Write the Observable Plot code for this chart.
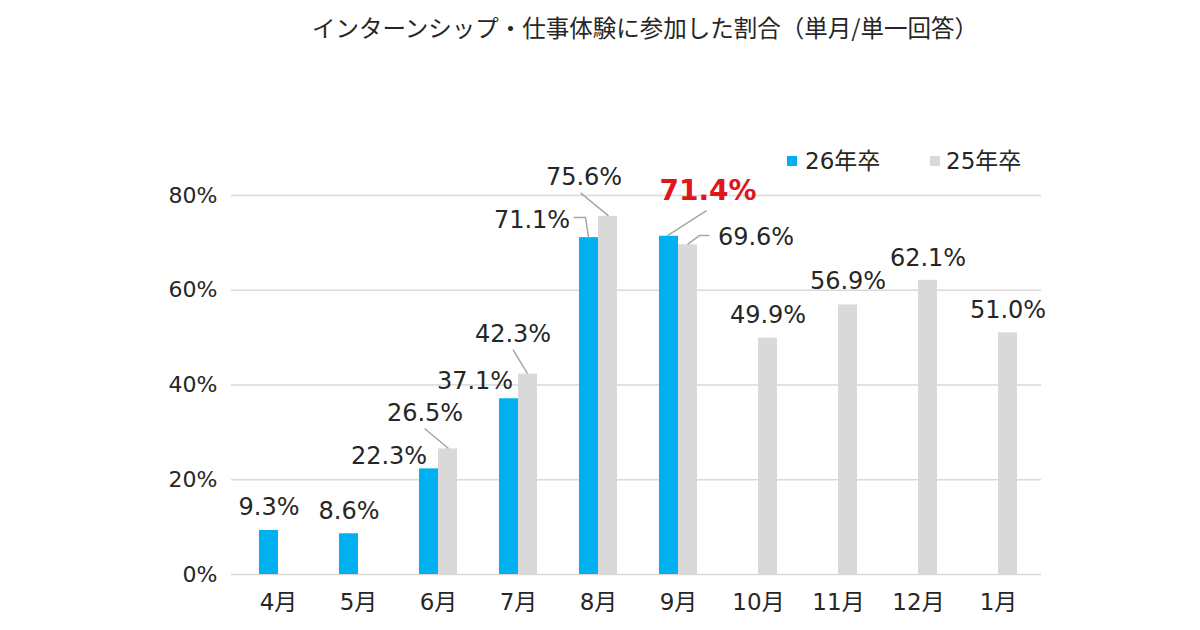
<!DOCTYPE html>
<html>
<head>
<meta charset="utf-8">
<script src="https://cdn.jsdelivr.net/npm/d3@7"></script>
<script src="https://cdn.jsdelivr.net/npm/@observablehq/plot@0.6"></script>
<style>
  body { margin: 0; background: #fff; }
  #wrap { position: relative; width: 1200px; height: 630px; overflow: hidden; background: #fff;
          font-family: "DejaVu Sans", "Noto Sans CJK JP", sans-serif; color: #262626; }
  #wrap svg { position: absolute; left: 0; top: 0; }
  #wrap svg g[aria-label^="x-axis"] text { font-size: 23px; }
  #title { position: absolute; top: 12px; left: 0; width: 1290px; text-align: center;
           font-family: "Noto Sans CJK JP", sans-serif; font-size: 23.5px; line-height: 30px; color: #262626; z-index: 2; }
  .sw { position: absolute; width: 10px; height: 10px; z-index: 2; }
  .lg { position: absolute; font-size: 23px; line-height: 23px; white-space: nowrap; z-index: 2; }
</style>
</head>
<body>
<div id="wrap">
  <div id="title"></div>
  <div id="legend"></div>
</div>
<script>
// ---- data ----
const titleText = "インターンシップ・仕事体験に参加した割合（単月/単一回答）";
const months = ["4月", "5月", "6月", "7月", "8月", "9月", "10月", "11月", "12月", "1月"];
const seriesNames = ["26年卒", "25年卒"];
const grad26 = [9.3, 8.6, 22.3, 37.1, 71.1, 71.4, null, null, null, null];
const grad25 = [null, null, 26.5, 42.3, 75.6, 69.6, 49.9, 56.9, 62.1, 51.0];
const yTicks = [0, 20, 40, 60, 80];
const highlight = {series: 0, month: "9月"};

// ---- annotation layout (label offset from bar top centre, px) ----
const labelPos26 = [[0, -15], [0, -15], [-40, -5], [-34, -10], [-57, -10], [39, -36], null, null, null, null];
const labelPos25 = [null, null, [-23, -28], [-15, -32], [-24, -31], [68, 0], [0, -15], [0, -16], [0, -14], [0, -15]];
const leaders26 = {4: [[-15, -19.6], [-3, -19.6], [0, 0]], 5: [[38, -25], [-1, 0]]};
const leaders25 = {2: [[-23, -20], [1, 0]], 3: [[-14.5, -24], [0, 0]], 4: [[-27, -23], [1, 0]], 5: [[22, -8.7], [12, -8.7], [0, 0]]};

// ---- styles ----
const colors = ["#00B0F0", "#D9D9D9"];
const textColor = "#262626";
const red = "#E0161B";
const BAR_W = 19;

const table = [];
months.forEach((m, i) => {
  if (grad26[i] != null) table.push({month: m, series: seriesNames[0], s: 0, i, value: grad26[i]});
  if (grad25[i] != null) table.push({month: m, series: seriesNames[1], s: 1, i, value: grad25[i]});
});

const labelMarks = table.map(d => {
  const pos = (d.s === 0 ? labelPos26 : labelPos25)[d.i];
  const isHi = d.s === highlight.series && d.month === highlight.month;
  const fs = isHi ? 28 : 24;
  const barOff = d.s === 0 ? -BAR_W / 2 : BAR_W / 2;
  return Plot.text([d], {
    x: "month", y: "value",
    text: v => v.value.toFixed(1) + "%",
    dx: barOff + pos[0], dy: pos[1] - 0.32 * fs,
    fontSize: fs, fontWeight: isHi ? "bold" : "normal",
    fill: isHi ? red : textColor, textAnchor: "middle"
  });
});

const plot = Plot.plot({
  width: 1200, height: 630,
  marginLeft: 235, marginRight: 159, marginTop: 195, marginBottom: 56,
  style: {fontFamily: "'DejaVu Sans', 'Noto Sans CJK JP', sans-serif", fontSize: "22px", color: textColor, background: "transparent", overflow: "visible"},
  x: {domain: months, paddingInner: 0.529, paddingOuter: 0.2645, tickSize: 0, tickPadding: 19, label: null},
  y: {domain: [0, 80], ticks: yTicks, tickFormat: d => d + "%", tickSize: 0, tickPadding: 18, label: null},
  marks: [
    Plot.ruleY(yTicks, {stroke: "#D9D9D9", strokeWidth: 1.5, insetLeft: -4}),
    Plot.barY(table.filter(d => d.s === 0), {x: "month", y: "value", fill: colors[0], insetRight: BAR_W}),
    Plot.barY(table.filter(d => d.s === 1), {x: "month", y: "value", fill: colors[1], insetLeft: BAR_W}),
    ...labelMarks
  ]
});

const wrap = document.getElementById("wrap");
wrap.appendChild(plot);
document.getElementById("title").textContent = titleText;

// leader lines, positioned through Plot's own scales
const sx = plot.scale("x"), sy = plot.scale("y");
const svg = d3.select(plot);
const g = svg.append("g").attr("fill", "none").attr("stroke", "#A6A6A6").attr("stroke-width", 1.5);
[[leaders26, grad26, -1], [leaders25, grad25, 1]].forEach(([ls, vals, side]) => {
  Object.entries(ls).forEach(([i, pts]) => {
    const cx = sx.apply(months[i]) + sx.bandwidth / 2 + side * BAR_W / 2;
    const cy = sy.apply(vals[i]);
    g.append("path").attr("d", d3.line()(pts.map(p => [cx + p[0], cy + p[1]])));
  });
});

// legend
const legend = document.getElementById("legend");
const legendItems = [{x: 787, t: 805}, {x: 930, t: 946}];
seriesNames.forEach((name, k) => {
  const sw = document.createElement("div");
  sw.className = "sw";
  sw.style.left = legendItems[k].x + "px";
  sw.style.top = "156px";
  sw.style.background = colors[k];
  legend.appendChild(sw);
  const t = document.createElement("div");
  t.className = "lg";
  t.style.left = legendItems[k].t + "px";
  t.style.top = "150px";
  t.textContent = name;
  legend.appendChild(t);
});
</script>
</body>
</html>
